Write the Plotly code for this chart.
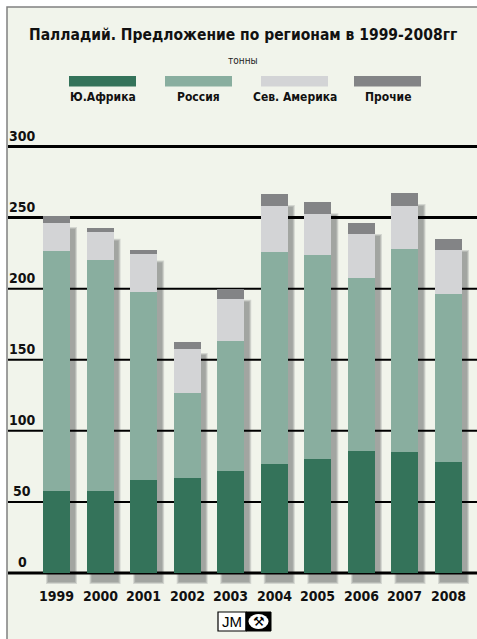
import plotly.graph_objects as go

# Palladium supply by region, tonnes
years = ["1999", "2000", "2001", "2002", "2003", "2004", "2005", "2006", "2007", "2008"]
south_africa = [57.9, 57.7, 65.4, 66.8, 71.5, 76.5, 80.2, 85.8, 85.3, 78.1]
russia = [168.6, 162.3, 132.1, 59.8, 91.7, 149.6, 143.8, 121.7, 142.4, 118.4]
north_america = [20.0, 19.7, 26.7, 31.2, 29.6, 32.1, 28.6, 30.8, 30.5, 30.7]
other = [4.7, 3.2, 3.3, 4.7, 7.2, 8.4, 8.2, 7.9, 9.1, 7.8]

series_names = ["Ю.Африка", "Россия", "Сев. Америка", "Прочие"]
series_values = [south_africa, russia, north_america, other]
series_colors = ["#34735a", "#89ae9f", "#d3d4d6", "#838486"]

y_ticks = [0, 50, 100, 150, 200, 250, 300]
heavy_ticks = [0, 250, 300]

W, H = 477, 639
FONT = "DejaVu Sans Condensed, Liberation Sans Narrow, Arial Narrow, sans-serif"
BG = "#f1f4eb"


def px_x(p):
    return p / W


def px_y(p):
    return 1 - p / H


# axis geometry (pixels): first bar centre, spacing, value scale
c0, step = 56.5, 43.56
y0_px, px_per_unit = 573.0, 1.4216
bar_w = 27 / step
x_left, x_right = 8, 477
y_bot, y_top = 592, 135

x_range = [(x_left - c0) / step, (x_right - c0) / step]
y_range = [(y0_px - y_bot) / px_per_unit, (y0_px - y_top) / px_per_unit]

fig = go.Figure()

for name, vals, col in zip(series_names, series_values, series_colors):
    fig.add_trace(go.Bar(
        x=list(range(len(years))), y=vals, name=name, width=bar_w,
        marker=dict(color=col, line=dict(width=0)),
        showlegend=False,
    ))

shapes = []

# chart frame
shapes.append(dict(type="rect", xref="paper", yref="paper",
                   x0=px_x(7), x1=px_x(W + 10), y0=px_y(H + 10), y1=px_y(7),
                   fillcolor=BG, line=dict(color="#808080", width=1.5), layer="below"))

# drop shadows behind the stacked columns
totals = [sum(v) for v in zip(*series_values)]
dx = 5 / step
for i, t in enumerate(totals):
    top = t - 13 / px_per_unit
    bot = -9 / px_per_unit
    for grow, col in [(2.0, "#d3d6d0"), (1.0, "#b6b9b4"), (0.0, "#a2a5a1")]:
        g = grow / step
        gy = grow / px_per_unit
        shapes.append(dict(type="rect", xref="x", yref="y",
                           x0=i - bar_w / 2 + dx - g, x1=i + bar_w / 2 + dx + g,
                           y0=bot - gy, y1=top + gy,
                           fillcolor=col, line=dict(width=0), layer="below"))

# horizontal rules at each tick, over the shadows and under the columns
for t in y_ticks:
    shapes.append(dict(type="line", xref="x", yref="y",
                       x0=x_range[0], x1=x_range[1], y0=t, y1=t,
                       line=dict(color="#000000", width=3 if t in heavy_ticks else 2),
                       layer="below"))

annotations = []

# y tick labels sitting above the rules
for t in y_ticks:
    annotations.append(dict(text=f"<b>{t}</b>", xref="paper", yref="y",
                            x=px_x(22), y=t, xanchor="center", yanchor="bottom",
                            yshift=1, showarrow=False,
                            font=dict(family=FONT, size=14, color="#111111")))

# year labels
for i, yr in enumerate(years):
    annotations.append(dict(text=f"<b>{yr}</b>", xref="x", yref="paper",
                            x=i, y=px_y(596), xanchor="center", yanchor="middle",
                            showarrow=False,
                            font=dict(family=FONT, size=14, color="#111111")))

# title and unit
annotations.append(dict(text="<b>Палладий. Предложение по регионам в 1999-2008гг</b>",
                        xref="paper", yref="paper", x=px_x(243.5), y=px_y(35),
                        xanchor="center", yanchor="middle", showarrow=False,
                        font=dict(family=FONT, size=15.5, color="#111111")))
annotations.append(dict(text="тонны", xref="paper", yref="paper",
                        x=px_x(243.5), y=px_y(60), xanchor="center", yanchor="middle",
                        showarrow=False, font=dict(family=FONT, size=10, color="#222222")))

# legend: swatch above each label
legend_centres = [102.5, 198.5, 294.5, 387.5]
for cx, name, col in zip(legend_centres, series_names, series_colors):
    shapes.append(dict(type="rect", xref="paper", yref="paper",
                       x0=px_x(cx - 33.5), x1=px_x(cx + 33.5),
                       y0=px_y(86.5), y1=px_y(76),
                       fillcolor=col, line=dict(width=0), layer="above"))
    annotations.append(dict(text=f"<b>{name}</b>", xref="paper", yref="paper",
                            x=px_x(cx), y=px_y(97.5), xanchor="center", yanchor="middle",
                            showarrow=False,
                            font=dict(family=FONT, size=12, color="#111111")))

# JM logo
shapes.append(dict(type="rect", xref="paper", yref="paper",
                   x0=px_x(218), x1=px_x(246), y0=px_y(631), y1=px_y(612),
                   fillcolor="#ffffff", line=dict(color="#000000", width=1.2), layer="above"))
shapes.append(dict(type="rect", xref="paper", yref="paper",
                   x0=px_x(246), x1=px_x(271), y0=px_y(631), y1=px_y(612),
                   fillcolor="#000000", line=dict(color="#000000", width=1), layer="above"))
shapes.append(dict(type="circle", xref="paper", yref="paper",
                   x0=px_x(248.5), x1=px_x(268.5), y0=px_y(629), y1=px_y(614),
                   fillcolor="#ffffff", line=dict(width=0), layer="above"))
annotations.append(dict(text="JM", xref="paper", yref="paper",
                        x=px_x(232), y=px_y(621.5), xanchor="center", yanchor="middle",
                        showarrow=False,
                        font=dict(family="Liberation Sans, Arial, sans-serif", size=15, color="#000000")))
annotations.append(dict(text="⚒", xref="paper", yref="paper",
                        x=px_x(258.5), y=px_y(621.5), xanchor="center", yanchor="middle",
                        showarrow=False,
                        font=dict(family="DejaVu Sans, sans-serif", size=13, color="#000000")))

fig.update_layout(
    width=W, height=H,
    margin=dict(l=0, r=0, t=0, b=0),
    paper_bgcolor="#ffffff",
    plot_bgcolor="rgba(0,0,0,0)",
    barmode="stack",
    bargap=0,
    shapes=shapes,
    annotations=annotations,
    xaxis=dict(domain=[px_x(x_left), px_x(x_right)], range=x_range,
               showgrid=False, zeroline=False, showticklabels=False,
               showline=False, ticks="", fixedrange=True),
    yaxis=dict(domain=[px_y(y_bot), px_y(y_top)], range=y_range,
               showgrid=False, zeroline=False, showticklabels=False,
               showline=False, ticks="", fixedrange=True),
    font=dict(family=FONT),
)

fig.write_html("out.html")
